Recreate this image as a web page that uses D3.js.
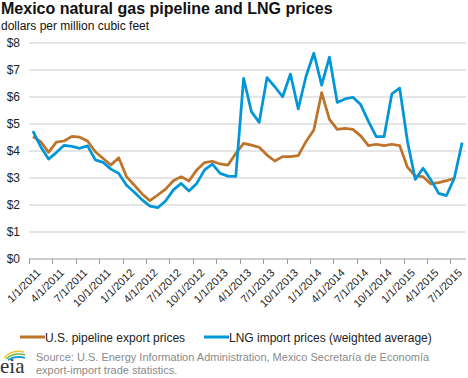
<!DOCTYPE html>
<html><head><meta charset="utf-8">
<script src="https://cdn.jsdelivr.net/npm/d3@7"></script>
<style>
html,body{margin:0;padding:0;background:#fff;}
svg{display:block;font-family:"Liberation Sans",Arial,sans-serif;}
</style></head>
<body>
<svg id="c" width="468" height="378"></svg>
<script>
const title = "Mexico natural gas pipeline and LNG prices";
const subtitle = "dollars per million cubic feet";
const months = [
 "2011-01","2011-02","2011-03","2011-04","2011-05","2011-06","2011-07","2011-08","2011-09","2011-10","2011-11","2011-12",
 "2012-01","2012-02","2012-03","2012-04","2012-05","2012-06","2012-07","2012-08","2012-09","2012-10","2012-11","2012-12",
 "2013-01","2013-02","2013-03","2013-04","2013-05","2013-06","2013-07","2013-08","2013-09","2013-10","2013-11","2013-12",
 "2014-01","2014-02","2014-03","2014-04","2014-05","2014-06","2014-07","2014-08","2014-09","2014-10","2014-11","2014-12",
 "2015-01","2015-02","2015-03","2015-04","2015-05","2015-06","2015-07","2015-08"];
const tickLabels = ["1/1/2011","4/1/2011","7/1/2011","10/1/2011","1/1/2012","4/1/2012","7/1/2012","10/1/2012",
 "1/1/2013","4/1/2013","7/1/2013","10/1/2013","1/1/2014","4/1/2014","7/1/2014","10/1/2014","1/1/2015","4/1/2015","7/1/2015"];
const tickMonths = ["2011-01","2011-04","2011-07","2011-10","2012-01","2012-04","2012-07","2012-10",
 "2013-01","2013-04","2013-07","2013-10","2014-01","2014-04","2014-07","2014-10","2015-01","2015-04","2015-07"];
const pipeline = [4.53,4.35,3.95,4.33,4.37,4.54,4.51,4.37,3.97,3.72,3.48,3.75,
 3.05,2.73,2.41,2.16,2.37,2.59,2.90,3.05,2.89,3.30,3.57,3.62,
 3.52,3.48,3.91,4.28,4.22,4.14,3.85,3.63,3.79,3.79,3.83,4.35,
 4.78,6.16,5.17,4.80,4.84,4.80,4.56,4.20,4.25,4.20,4.25,4.20,
 3.40,3.07,3.05,2.78,2.83,2.90,2.99];
const lng = [4.74,4.16,3.70,3.94,4.21,4.17,4.10,4.19,3.67,3.58,3.33,3.17,
 2.73,2.47,2.19,1.96,1.90,2.15,2.56,2.80,2.52,2.80,3.30,3.51,
 3.17,3.07,3.06,6.69,5.46,5.06,6.72,6.38,6.01,6.85,5.56,6.77,
 7.62,6.44,7.48,5.80,5.93,5.99,5.72,5.10,4.53,4.53,6.12,6.33,
 4.35,2.95,3.36,2.93,2.43,2.35,2.99,4.31];
const yTicks = [0,1,2,3,4,5,6,7,8];
const seriesNames = ["U.S. pipeline export prices","LNG import prices (weighted average)"];
const colors = ["#bd732a","#0096d7"];
const source1 = "Source: U.S. Energy Information Administration, Mexico Secretaría de Economía";
const source2 = "export-import trade statistics.";

const svg = d3.select("#c");
const x = d3.scaleBand().domain(months).range([29, 466]).padding(0);
const y = d3.scaleLinear().domain([0, 8]).range([259, 43]);
const cx = m => x(m) + x.bandwidth()/2;

svg.append("text").attr("x",1).attr("y",14).attr("font-size",16).attr("font-weight","bold").attr("fill","#111").text(title);
svg.append("text").attr("x",1).attr("y",29.5).attr("font-size",12).attr("fill","#111").text(subtitle);

// gridlines
svg.append("g").selectAll("line").data(yTicks.filter(d=>d>0)).join("line")
  .attr("x1",29).attr("x2",466).attr("y1",d=>y(d)).attr("y2",d=>y(d))
  .attr("stroke","#dcdcdc").attr("stroke-width",1.6);
// y labels
svg.append("g").selectAll("text").data(yTicks).join("text")
  .attr("x",20).attr("y",d=>y(d)).attr("dy","0.35em").attr("text-anchor","end")
  .attr("font-size",12).attr("fill","#222").text(d=>"$"+d);

// x axis
const xa = svg.append("g");
xa.append("line").attr("x1",29).attr("x2",466).attr("y1",259).attr("y2",259).attr("stroke","#999").attr("stroke-width",1);
xa.selectAll("line.t").data(tickMonths).join("line").attr("class","t")
  .attr("x1",d=>Math.round(x(d))+0.5).attr("x2",d=>Math.round(x(d))+0.5).attr("y1",259).attr("y2",264)
  .attr("stroke","#999");
xa.selectAll("text").data(tickMonths).join("text")
  .attr("transform",d=>`translate(${cx(d)+3},${268}) rotate(-45)`)
  .attr("text-anchor","end").attr("dy","0.7em").attr("font-size",11).attr("fill","#222")
  .text((d,i)=>tickLabels[i]);

// lines
const line = d3.line().x(d=>cx(d.m)).y(d=>y(d.v));
[pipeline, lng].forEach((s,k)=>{
  svg.append("path").datum(s.map((v,i)=>({m:months[i],v})))
    .attr("d",line).attr("fill","none").attr("stroke",colors[k]).attr("stroke-width",2.75)
    .attr("stroke-linejoin","round");
});

// legend
const leg = [{x:20,tx:45},{x:204,tx:229}];
leg.forEach((l,k)=>{
  svg.append("line").attr("x1",l.x).attr("x2",l.x+25).attr("y1",337).attr("y2",337).attr("stroke",colors[k]).attr("stroke-width",3);
  svg.append("text").attr("x",l.tx).attr("y",341.5).attr("font-size",12).attr("fill","#222").text(seriesNames[k]);
});

// footer
svg.append("text").attr("x",36).attr("y",361).attr("font-size",11).attr("fill","#8a8a8a").text(source1);
svg.append("text").attr("x",36).attr("y",374).attr("font-size",11).attr("fill","#8a8a8a").text(source2);
// eia logo
const lg = svg.append("g");
lg.append("text").attr("x",0).attr("y",373).attr("font-family","Liberation Serif,serif").attr("font-size",21).attr("fill","#333").text("eia");
lg.append("path").attr("d","M4,358 Q12,349 24,352").attr("fill","none").attr("stroke","#f2c12e").attr("stroke-width",1.5);
lg.append("path").attr("d","M6,359 Q14,352 25,355").attr("fill","none").attr("stroke","#7ab648").attr("stroke-width",1.5);
lg.append("path").attr("d","M8,360 Q16,355 25,358").attr("fill","none").attr("stroke","#0096d7").attr("stroke-width",1.5);
</script>
</body></html>
